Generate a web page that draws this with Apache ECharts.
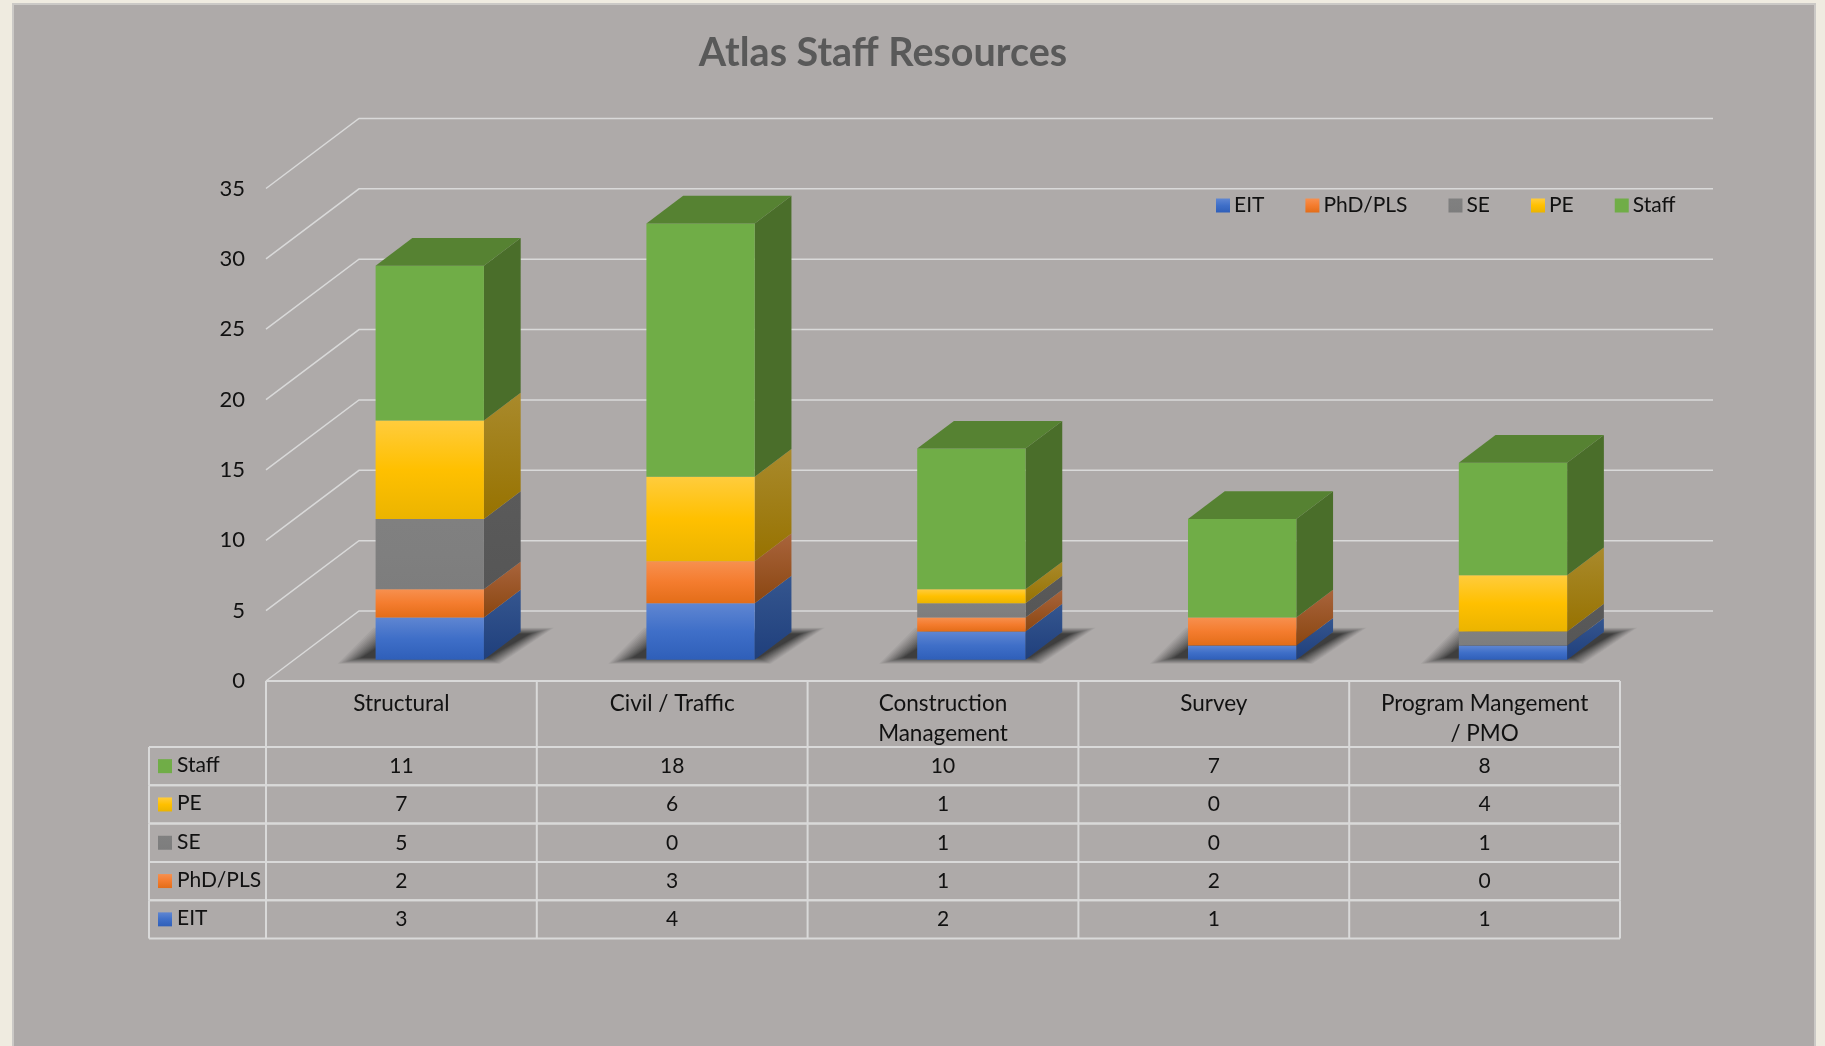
<!DOCTYPE html>
<html lang="en">
<head>
    <meta charset="UTF-8">
    <title>Atlas Staff Resources</title>
    <script src="https://cdn.jsdelivr.net/npm/echarts@6/dist/echarts.min.js"></script>
    <style>
        * {
            margin: 0;
            padding: 0
        }

        html, body {
            width: 100%;
            height: 100%;
            overflow: hidden;
        }

        #main {
            width: 1825px;
            height: 1046px;
        }
    </style>
</head>

<body>
<div id="main"></div>
<script>
    var categories = ['Structural', 'Civil / Traffic', 'Construction\nManagement', 'Survey', 'Program Mangement\n/ PMO'];
    var yTicks = [0, 5, 10, 15, 20, 25, 30, 35];

    var eit = [3, 4, 2, 1, 1];
    var phdPls = [2, 3, 1, 2, 0];
    var se = [5, 0, 1, 0, 1];
    var pe = [7, 6, 1, 0, 4];
    var staff = [11, 18, 10, 7, 8];

    var seriesNames = ['EIT', 'PhD/PLS', 'SE', 'PE', 'Staff'];
    var seriesValues = [eit, phdPls, se, pe, staff];

    function vGrad(stops) {
        return new echarts.graphic.LinearGradient(0, 0, 0, 1, stops.map(function (c, i) {
            return {offset: i / (stops.length - 1), color: c};
        }));
    }

    // front face, side face
    var faces = {
        'EIT': [['#5f86d2', '#3f6fc8', '#2f5fb9'], ['#35568f', '#1f3f7c']],
        'PhD/PLS': [['#f7904f', '#f47c2e', '#e36d18'], ['#a9643c', '#8a4610']],
        'SE': [['#808080', '#7f7f7f', '#7d7d7d'], ['#5a5a5a', '#565656']],
        'PE': [['#ffcc3d', '#ffc000', '#ebb400'], ['#a98a2c', '#977200']],
        'Staff': [['#70ad47', '#70ad47'], ['#4a6e2a', '#4a6e2a']]
    };

    // 3d look: how far the depth axis goes on screen
    var depthX = 93;
    var depthY = 70;
    var barFront = 0.305;
    var barBack = 0.70;
    var barHalf = 0.2;

    var rowTop = 66;
    var rowH = 38.3;
    var tableLeft = 149;

    function poly(points, fill) {
        return {type: 'polygon', shape: {points: points}, style: {fill: fill}};
    }

    function bandInfo(api, i, v) {
        var p = api.coord([i, v]);
        return {x: p[0], y: p[1], band: api.size([1, 0])[0]};
    }

    function renderSegment(name) {
        return function (params, api) {
            var i = api.value(0);
            var from = api.value(1);
            var to = api.value(2);
            if (to <= from) {
                return null;
            }
            var a = bandInfo(api, i, from);
            var b = bandInfo(api, i, to);
            var x0 = a.x - a.band * barHalf + barFront * depthX;
            var x1 = a.x + a.band * barHalf + barFront * depthX;
            var y0 = a.y - barFront * depthY;
            var y1 = b.y - barFront * depthY;
            var dx = (barBack - barFront) * depthX;
            var dy = (barBack - barFront) * depthY;
            var children = [
                poly([[x1, y1], [x1, y0], [x1 + dx, y0 - dy], [x1 + dx, y1 - dy]], vGrad(faces[name][1])),
                poly([[x0, y1], [x1, y1], [x1, y0], [x0, y0]], vGrad(faces[name][0]))
            ];
            if (name === 'Staff') {
                children.push(poly([[x0, y1], [x1, y1], [x1 + dx, y1 - dy], [x0 + dx, y1 - dy]], '#568232'));
            }
            return {type: 'group', children: children};
        };
    }

    // soft floor shadow, opaque layers going from the wall grey to dark towards the bar
    function renderShadow(params, api) {
        var a = bandInfo(api, api.value(0), 0);
        var x0 = a.x - a.band * barHalf + barFront * depthX;
        var x1 = a.x + a.band * barHalf + barFront * depthX;
        var y0 = a.y - barFront * depthY;
        var children = [];
        for (var k = 0; k < 13; k++) {
            var e = 24 - 2 * k;
            var t = (k + 1) / 13;
            var shade = 'rgb(' + Math.round(174 - 112 * t) + ',' + Math.round(170 - 108 * t) + ',' + Math.round(169 - 107 * t) + ')';
            children.push(poly([
                [x0 - 14 - e, y0 - 2 + e * 0.25],
                [x1 + 4 + e * 0.5, y0 - 2 + e * 0.25],
                [x1 + 46 + e, y0 - 26 - e * 0.25],
                [x0 + 22 - e, y0 - 26 - e * 0.25]
            ], shade));
        }
        return {type: 'group', children: children};
    }

    function renderGridLine(params, api) {
        var a = bandInfo(api, 0, api.value(0));
        var left = a.x - a.band / 2;
        var right = bandInfo(api, categories.length - 1, 0).x + a.band / 2;
        return {
            type: 'polyline',
            shape: {points: [[left, a.y], [left + depthX, a.y - depthY], [right + depthX, a.y - depthY]]},
            style: {fill: null, stroke: '#d9d9d9', lineWidth: 1.5}
        };
    }

    // data table under the bars, one data item per row
    var tableRows = [4, 3, 2, 1, 0];

    function tableText(text, x, y, align) {
        return {
            type: 'text',
            style: {
                text: text, x: x, y: y, align: align, verticalAlign: 'middle',
                fill: '#111', font: '21px Lato'
            }
        };
    }

    function tableLine(x1, y1, x2, y2) {
        return {
            type: 'line',
            shape: {x1: x1, y1: y1, x2: x2, y2: y2},
            style: {stroke: '#d9d9d9', lineWidth: 2}
        };
    }

    function renderTableRow(params, api) {
        var r = params.dataIndex;
        var s = api.value(0);
        var o = bandInfo(api, 0, 0);
        var left = o.x - o.band / 2;
        var right = left + o.band * categories.length;
        var top = o.y + rowTop + r * rowH;
        var mid = top + rowH / 2;
        var children = [
            tableLine(tableLeft, top, right, top),
            tableLine(tableLeft, top + rowH, right, top + rowH),
            tableLine(tableLeft, top, tableLeft, top + rowH),
            poly([[158, mid - 7], [172, mid - 7], [172, mid + 7], [158, mid + 7]], vGrad(faces[seriesNames[s]][0])),
            tableText(seriesNames[s], 177, mid - 1, 'left')
        ];
        for (var c = 0; c <= categories.length; c++) {
            children.push(tableLine(left + c * o.band, top, left + c * o.band, top + rowH));
        }
        for (var j = 0; j < categories.length; j++) {
            children.push(tableText(String(seriesValues[s][j]), left + (j + 0.5) * o.band, mid, 'center'));
        }
        return {type: 'group', children: children};
    }

    function renderTableHead(params, api) {
        var o = bandInfo(api, 0, 0);
        var left = o.x - o.band / 2;
        var children = [tableLine(left, o.y, left + o.band * categories.length, o.y)];
        for (var c = 0; c <= categories.length; c++) {
            children.push(tableLine(left + c * o.band, o.y, left + c * o.band, o.y + rowTop));
        }
        return {type: 'group', children: children};
    }

    var seriesList = [
        {type: 'custom', name: 'walls', z: 1, silent: true, renderItem: renderGridLine, data: yTicks.map(function (v) { return [v]; }), encode: {y: 0}},
        {type: 'custom', name: 'floorShadow', z: 2, silent: true, renderItem: renderShadow, data: categories.map(function (c, i) { return [i]; }), encode: {x: 0}},
        {type: 'custom', name: 'tableHead', z: 3, silent: true, renderItem: renderTableHead, data: [[0]], encode: {x: 0}},
        {type: 'custom', name: 'table', z: 3, silent: true, renderItem: renderTableRow, data: tableRows.map(function (s) { return [s]; }), encode: {x: 1}}
    ];

    var stackBase = categories.map(function () { return 0; });
    seriesNames.forEach(function (name, s) {
        var rows = seriesValues[s].map(function (v, i) {
            var row = [i, stackBase[i], stackBase[i] + v];
            stackBase[i] += v;
            return row;
        });
        seriesList.push({
            type: 'custom',
            name: name,
            z: 4,
            renderItem: renderSegment(name),
            itemStyle: {color: vGrad(faces[name][0])},
            encode: {x: 0, y: 2},
            data: rows
        });
    });

    var myChart = echarts.init(document.getElementById('main'));

    var option = {
        animation: false,
        backgroundColor: '#efebe0',
        graphic: [{
            type: 'rect',
            z: -10,
            shape: {x: 13, y: 4, width: 1802, height: 1060},
            style: {fill: '#aeaaa9', stroke: '#cbc9c6', lineWidth: 2}
        }],
        title: {
            text: 'Atlas Staff Resources',
            left: 878,
            top: 28,
            textAlign: 'center',
            textStyle: {fontFamily: 'Lato', fontSize: 39.5, fontWeight: 'bold', color: '#595959'}
        },
        legend: {
            left: 1211,
            top: 190,
            itemWidth: 14,
            itemHeight: 14,
            itemGap: 41,
            icon: 'rect',
            data: seriesNames,
            selectedMode: false,
            textStyle: {fontFamily: 'Lato', fontSize: 21, color: '#111', padding: [0, 0, 0, -1]}
        },
        grid: {left: 266, right: 205, top: 188.5, height: 492.5},
        xAxis: {
            type: 'category',
            data: categories,
            axisLine: {show: false},
            axisTick: {show: false},
            axisLabel: {margin: 8, fontFamily: 'Lato', fontSize: 22.5, color: '#111', lineHeight: 30, interval: 0}
        },
        yAxis: {
            type: 'value',
            min: 0,
            max: 35,
            interval: 5,
            splitLine: {show: false},
            axisLine: {show: false},
            axisTick: {show: false},
            axisLabel: {margin: 21, fontFamily: 'Lato', fontSize: 22, color: '#111', padding: [8, 0, 0, 0]}
        },
        series: seriesList
    };

    myChart.setOption(option);
</script>
</body>
</html>
